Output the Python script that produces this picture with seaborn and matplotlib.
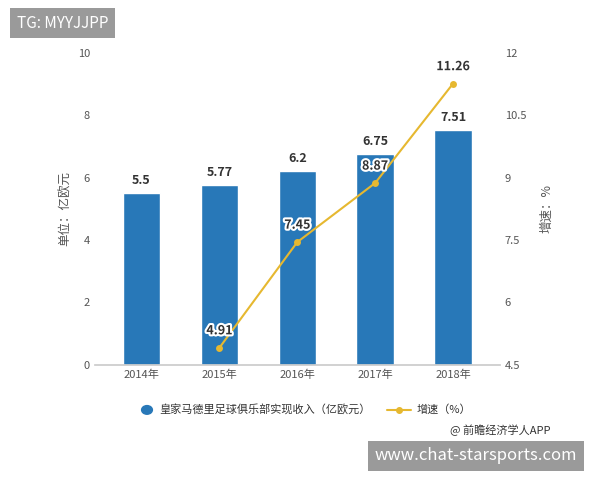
import matplotlib
matplotlib.use("Agg")
import matplotlib.pyplot as plt
import matplotlib.patheffects as pe
import seaborn as sns
import pandas as pd

years = ["2014年", "2015年", "2016年", "2017年", "2018年"]
revenue = [5.5, 5.77, 6.2, 6.75, 7.51]
growth_years = ["2015年", "2016年", "2017年", "2018年"]
growth = [4.91, 7.45, 8.87, 11.26]

sns.set_theme(style="white")
plt.rcParams["font.family"] = ["Noto Sans CJK SC", "DejaVu Sans"]

bar_color = "#2878b8"
line_color = "#e6b830"

fig = plt.figure(figsize=(6, 4.8), dpi=100)
ax = fig.add_axes([0.158, 0.24, 0.675, 0.65])
df = pd.DataFrame({"year": years, "revenue": revenue})
sns.barplot(data=df, x="year", y="revenue", color=bar_color, width=0.48, ax=ax, saturation=1)
ax.set_ylim(0, 10)
ax.set_yticks(range(0, 11, 2))
ax.set_xlabel("")
ax.set_ylabel("单位：亿欧元", fontsize=9, color="#555555")
for i, v in enumerate(revenue):
    ax.text(i, v + 0.2, f"{v:g}", ha="center", va="bottom", fontsize=9, fontweight="bold", color="#333333")

ax2 = ax.twinx()
xs = [years.index(y) for y in growth_years]
sns.lineplot(x=xs, y=growth, color=line_color, marker="o", markersize=5, markeredgewidth=0, linewidth=1.5, ax=ax2)
ax2.set_ylim(4.5, 12)
ax2.set_yticks([4.5, 6, 7.5, 9, 10.5, 12])
ax2.set_yticklabels(["4.5", "6", "7.5", "9", "10.5", "12"])
ax2.set_ylabel("增速：%", fontsize=9, color="#555555", rotation=90, labelpad=10)
for x, v in zip(xs, growth):
    ax2.text(x, v + 0.25, f"{v:g}", ha="center", va="bottom", fontsize=9, fontweight="bold", color="#333333",
             path_effects=[pe.withStroke(linewidth=3, foreground="white")])

for a in (ax, ax2):
    a.tick_params(labelsize=8, colors="#555555", length=0)
    for s in a.spines.values():
        s.set_visible(False)
ax.spines["bottom"].set_visible(True)
ax.spines["bottom"].set_color("#cccccc")
ax.set_xlim(-0.6, 4.6)

# legend
fig.patches.append(plt.Circle((0.245, 0.146), 0.009, transform=fig.transFigure, color=bar_color, figure=fig))
fig.text(0.265, 0.146, "皇家马德里足球俱乐部实现收入（亿欧元）", fontsize=8, va="center", color="#333333")
fig.lines.append(plt.Line2D([0.645, 0.685], [0.146, 0.146], transform=fig.transFigure, color=line_color, lw=1.5))
fig.lines.append(plt.Line2D([0.665], [0.146], transform=fig.transFigure, color=line_color, marker="o", markersize=4))
fig.text(0.695, 0.146, "增速（%）", fontsize=8, va="center", color="#333333")
fig.text(0.75, 0.103, "@ 前瞻经济学人APP", fontsize=8, va="center", color="#333333")

fig.text(0.028, 0.952, "TG: MYYJJPP", fontsize=11, color="white", va="center",
         bbox=dict(boxstyle="square,pad=0.45", fc="#9a9a9a", ec="none"))
fig.text(0.625, 0.05, "www.chat-starsports.com", fontsize=12, color="white", va="center",
         bbox=dict(boxstyle="square,pad=0.4", fc="#9a9a9a", ec="none"))

fig.savefig("out.png", dpi=100)
